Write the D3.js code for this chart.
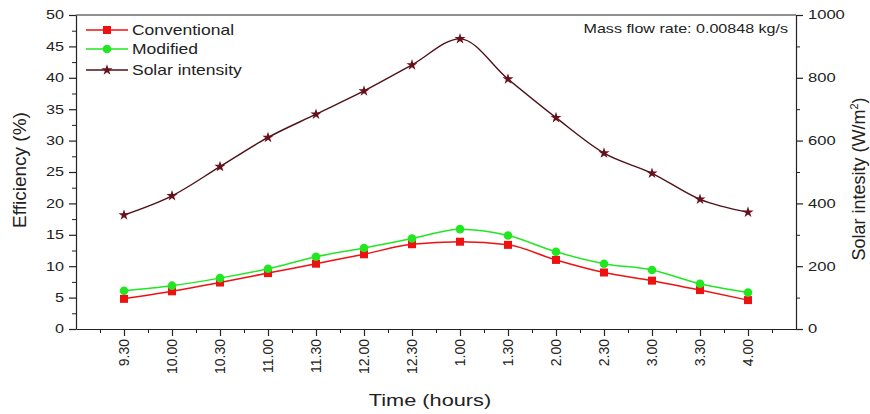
<!DOCTYPE html>
<html>
<head>
<meta charset="utf-8">
<script src="https://cdn.jsdelivr.net/npm/d3@7/dist/d3.min.js"></script>
<style>
  html, body { margin: 0; padding: 0; background: #ffffff; }
  svg { display: block; font-family: "Liberation Sans", Arial, sans-serif; }
</style>
</head>
<body>
<svg id="chart" width="870" height="414"></svg>
<script>
// ---------- data ----------
const timeLabels = ["9.30","10.00","10.30","11.00","11.30","12.00","12.30","1.00","1.30","2.00","2.30","3.00","3.30","4.00"];
const conventional = [4.8, 6.0, 7.4, 8.9, 10.4, 11.9, 13.5, 13.9, 13.4, 11.0, 9.0, 7.7, 6.2, 4.6];
const modified     = [6.1, 6.9, 8.1, 9.6, 11.5, 12.9, 14.4, 15.9, 14.9, 12.3, 10.4, 9.4, 7.2, 5.8];
const solarIntensity = [363, 424, 517, 610, 684, 758, 841, 924, 796, 673, 560, 496, 413, 372];
const leftTicks  = [0, 5, 10, 15, 20, 25, 30, 35, 40, 45, 50];
const rightTicks = [0, 200, 400, 600, 800, 1000];
const seriesNames = ["Conventional", "Modified", "Solar intensity"];

// ---------- layout ----------
const L = 76, R = 796, T = 15, B = 329;
const svg = d3.select("#chart");
const x = d3.scaleLinear().domain([-1, timeLabels.length]).range([L, R]);
const yL = d3.scaleLinear().domain([0, 50]).range([B, T]);
const yR = d3.scaleLinear().domain([0, 1000]).range([B, T]);

const C_RED = "#ee1111", C_GREEN = "#22e622", C_SOLAR = "#4e1218", C_STAR = "#6a0f1c";
const axisColor = "#222";
const fmt = d3.format("d");

function stretchX(sel, k) {
  sel.each(function () {
    const t = d3.select(this);
    const xx = +t.attr("x") || 0;
    t.attr("transform", `translate(${xx},0) scale(${k},1) translate(${-xx},0)`);
  });
}

// frame top line
svg.append("line").attr("x1", L).attr("x2", R).attr("y1", T).attr("y2", T)
  .attr("stroke", axisColor).attr("stroke-width", 1.2);

// left axis minor ticks
svg.append("g").attr("transform", `translate(${L},0)`)
  .call(d3.axisLeft(yL).tickValues(d3.range(2.5, 50, 5)).tickSize(4).tickFormat(""))
  .call(g => g.select(".domain").remove())
  .call(g => g.selectAll("line").attr("stroke", axisColor));
// left axis
const gL = svg.append("g").attr("transform", `translate(${L},0)`)
  .call(d3.axisLeft(yL).tickValues(leftTicks).tickFormat(fmt).tickSize(7).tickSizeOuter(0).tickPadding(5));
gL.selectAll("path,line").attr("stroke", axisColor).attr("stroke-width", 1.2);
gL.selectAll("text").attr("font-size", 12).attr("fill", "#222").call(stretchX, 1.35);

// right axis minor
svg.append("g").attr("transform", `translate(${R},0)`)
  .call(d3.axisRight(yR).tickValues(d3.range(100, 1000, 200)).tickSize(4).tickFormat(""))
  .call(g => g.select(".domain").remove())
  .call(g => g.selectAll("line").attr("stroke", axisColor));
const gR = svg.append("g").attr("transform", `translate(${R},0)`)
  .call(d3.axisRight(yR).tickValues(rightTicks).tickFormat(fmt).tickSize(7).tickSizeOuter(0).tickPadding(5));
gR.selectAll("path,line").attr("stroke", axisColor).attr("stroke-width", 1.2);
gR.selectAll("text").attr("font-size", 12).attr("fill", "#222").call(stretchX, 1.38);

// bottom minor ticks
svg.append("g").attr("transform", `translate(0,${B})`)
  .call(d3.axisBottom(x).tickValues(d3.range(-0.5, timeLabels.length, 1)).tickSize(4).tickFormat(""))
  .call(g => g.select(".domain").remove())
  .call(g => g.selectAll("line").attr("stroke", axisColor));
const gB = svg.append("g").attr("transform", `translate(0,${B})`)
  .call(d3.axisBottom(x).tickValues(d3.range(timeLabels.length)).tickFormat(i => timeLabels[i])
        .tickSize(7).tickSizeOuter(0));
gB.selectAll("path,line").attr("stroke", axisColor).attr("stroke-width", 1.2);
gB.selectAll("text")
  .attr("font-size", 14).attr("fill", "#222")
  .attr("transform", "rotate(-90)")
  .attr("text-anchor", "end")
  .attr("x", -10).attr("y", 0).attr("dy", "0.35em");

// axis titles
svg.append("text").attr("x", 430).attr("y", 406).attr("text-anchor", "middle")
  .attr("font-size", 17).attr("fill", "#222").text("Time (hours)").call(stretchX, 1.28);
svg.append("text").attr("transform", "translate(26,170) rotate(-90)").attr("text-anchor", "middle")
  .attr("font-size", 19).attr("fill", "#222").text("Efficiency (%)");
const rt = svg.append("text").attr("transform", "translate(865,179) rotate(-90)").attr("text-anchor", "middle")
  .attr("font-size", 18).attr("fill", "#222");
rt.append("tspan").text("Solar intesity (W/m");
rt.append("tspan").attr("font-size", 11).attr("dy", -7).text("2");
rt.append("tspan").attr("dy", 7).text(")");

// annotation
svg.append("text").attr("x", 788).attr("y", 33).attr("text-anchor", "end")
  .attr("font-size", 12).attr("fill", "#222").text("Mass flow rate: 0.00848 kg/s").call(stretchX, 1.34);

// ---------- series ----------
const curve = d3.curveMonotoneX;
const lineL = d3.line().x((d, i) => x(i)).y(d => yL(d)).curve(curve);
const lineR = d3.line().x((d, i) => x(i)).y(d => yR(d)).curve(curve);

svg.append("path").attr("d", lineR(solarIntensity)).attr("fill", "none")
  .attr("stroke", C_SOLAR).attr("stroke-width", 1.4);
svg.append("path").attr("d", lineL(conventional)).attr("fill", "none")
  .attr("stroke", C_RED).attr("stroke-width", 1.5);
svg.append("path").attr("d", lineL(modified)).attr("fill", "none")
  .attr("stroke", C_GREEN).attr("stroke-width", 1.5);

const star = d3.symbol().type(d3.symbolStar).size(38);
svg.append("g").selectAll("path").data(solarIntensity).join("path")
  .attr("d", star).attr("transform", (d, i) => `translate(${x(i)},${yR(d)})`)
  .attr("fill", C_STAR);
svg.append("g").selectAll("rect").data(conventional).join("rect")
  .attr("x", (d, i) => x(i) - 4).attr("y", d => yL(d) - 4).attr("width", 8).attr("height", 8)
  .attr("fill", C_RED);
svg.append("g").selectAll("circle").data(modified).join("circle")
  .attr("cx", (d, i) => x(i)).attr("cy", d => yL(d)).attr("r", 4.3)
  .attr("fill", C_GREEN);

// ---------- legend ----------
const legY = [30, 49, 70];
const legColors = [C_RED, C_GREEN, C_SOLAR];
const lg = svg.append("g");
seriesNames.forEach((name, k) => {
  const y = legY[k];
  lg.append("line").attr("x1", 86).attr("x2", 128).attr("y1", y).attr("y2", y)
    .attr("stroke", legColors[k]).attr("stroke-width", 1.5);
  if (k === 0) lg.append("rect").attr("x", 103).attr("y", y - 4).attr("width", 8).attr("height", 8).attr("fill", C_RED);
  if (k === 1) lg.append("circle").attr("cx", 107).attr("cy", y).attr("r", 4.3).attr("fill", C_GREEN);
  if (k === 2) lg.append("path").attr("d", star).attr("transform", `translate(107,${y})`).attr("fill", C_STAR);
  lg.append("text").attr("x", 132).attr("y", y + 5).attr("font-size", 14).attr("fill", "#222")
    .text(name).call(stretchX, 1.25);
});
</script>
</body>
</html>
